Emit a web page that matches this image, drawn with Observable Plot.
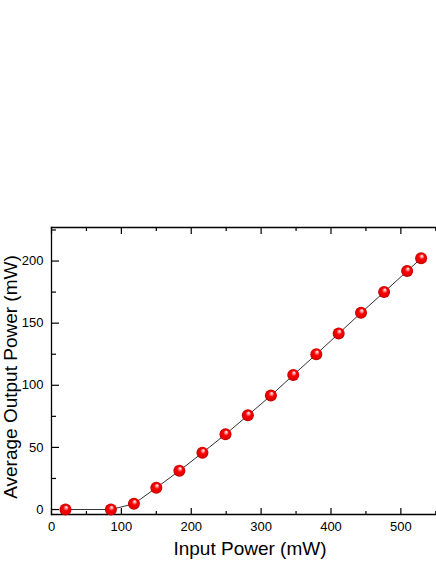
<!DOCTYPE html>
<html><head><meta charset="utf-8">
<script src="https://cdn.jsdelivr.net/npm/d3@7"></script>
<script src="https://cdn.jsdelivr.net/npm/@observablehq/plot@0.6"></script>
<style>html,body{margin:0;padding:0;background:#fff}</style>
</head><body><div id="chart"></div>
<script>
const inputPower = [20, 85, 118, 150, 183, 216, 249, 281, 314, 346, 379, 411, 443, 476, 509, 529];
const outputPower = [0, 0, 4.6, 17.5, 31.2, 45.7, 60.5, 75.8, 91.7, 108.3, 125, 141.7, 158.3, 175, 191.9, 202.2];
const xMajor = [0, 100, 200, 300, 400, 500];
const xMinor = [50, 150, 250, 350, 450, 550];
const yMajor = [0, 50, 100, 150, 200];
const yMinor = [25, 75, 125, 175, 225];
const xLabel = "Input Power (mW)";
const yLabel = "Average Output Power (mW)";

const data = inputPower.map((x, i) => ({x, y: outputPower[i]}));

const defs = () => {
  const d = d3.create("svg:defs");
  const g = d.append("radialGradient").attr("id", "ball")
    .attr("cx", "50%").attr("cy", "50%").attr("r", "50%")
    .attr("fx", "58%").attr("fy", "28%");
  g.append("stop").attr("offset", "0%").attr("stop-color", "#ffffff");
  g.append("stop").attr("offset", "22%").attr("stop-color", "#ff9090");
  g.append("stop").attr("offset", "45%").attr("stop-color", "#ff0000");
  g.append("stop").attr("offset", "85%").attr("stop-color", "#e00000");
  g.append("stop").attr("offset", "100%").attr("stop-color", "#b00000");
  return d.node();
};

const blank = () => "";

const chart = Plot.plot({
  width: 436,
  height: 564,
  marginLeft: 51,
  marginRight: 0,
  marginTop: 227,
  marginBottom: 50,
  style: {fontFamily: "Arial, 'Liberation Sans', sans-serif", fontSize: "13px", background: "#fff", color: "#000"},
  x: {domain: [0, 551]},
  y: {domain: [-4, 227]},
  marks: [
    defs,
    Plot.frame({anchor: "top", strokeWidth: 1.3}),
    Plot.frame({anchor: "bottom", strokeWidth: 1.3}),
    Plot.frame({anchor: "left", strokeWidth: 1.3}),
    Plot.axisX({ticks: xMajor, tickSize: 0, tickPadding: 7, label: null}),
    Plot.axisX({anchor: "top", frameAnchor: "bottom", ticks: xMajor, tickSize: 7, tickFormat: blank, label: null, strokeWidth: 1.2}),
    Plot.axisX({anchor: "top", frameAnchor: "bottom", ticks: xMinor, tickSize: 4, tickFormat: blank, label: null, strokeWidth: 1.2}),
    Plot.axisX({anchor: "bottom", frameAnchor: "top", ticks: xMajor, tickSize: 7, tickFormat: blank, label: null, strokeWidth: 1.2}),
    Plot.axisX({anchor: "bottom", frameAnchor: "top", ticks: xMinor, tickSize: 4, tickFormat: blank, label: null, strokeWidth: 1.2}),
    Plot.axisY({ticks: yMajor, tickSize: 0, tickPadding: 8, label: null}),
    Plot.axisY({anchor: "right", frameAnchor: "left", ticks: yMajor, tickSize: 7, tickFormat: blank, label: null, strokeWidth: 1.2}),
    Plot.axisY({anchor: "right", frameAnchor: "left", ticks: yMinor, tickSize: 4, tickFormat: blank, label: null, strokeWidth: 1.2}),
    Plot.text([xLabel], {frameAnchor: "bottom", textAnchor: "middle", dx: 6, dy: 40, fontSize: 19}),
    Plot.text([yLabel], {frameAnchor: "left", textAnchor: "middle", rotate: -90, dx: -41, dy: 6, fontSize: 19}),
    Plot.line(data, {x: "x", y: "y", stroke: "#333", strokeWidth: 1}),
    Plot.dot(data, {x: "x", y: "y", r: 6, fill: "url(#ball)", stroke: "none"})
  ]
});
document.getElementById("chart").appendChild(chart);
</script>
</body></html>
